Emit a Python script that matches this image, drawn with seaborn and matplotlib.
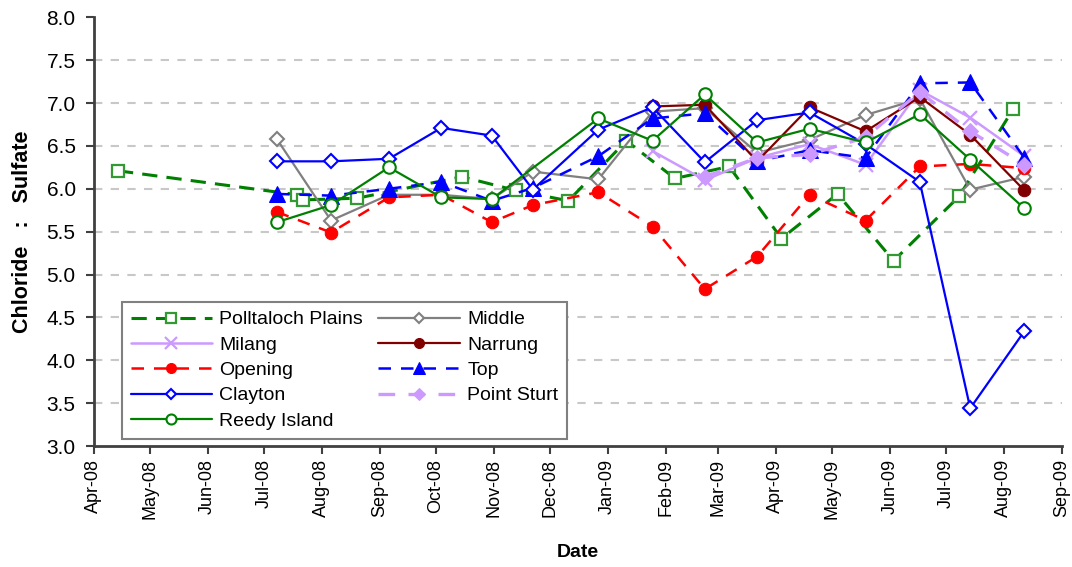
import numpy as np
import matplotlib
matplotlib.use("Agg")
import matplotlib.pyplot as plt
import matplotlib.dates as mdates
import pandas as pd
import seaborn as sns

sns.set_style("white", {"text.color": "black", "xtick.color": "black",
                        "ytick.color": "black", "axes.labelcolor": "black"})
plt.rcParams['font.family'] = ['Liberation Sans', 'DejaVu Sans']

# sampling dates and chloride : sulfate ratios
polltaloch_dates = ["2008-04-14", "2008-07-19", "2008-07-22", "2008-08-20", "2008-10-15",
                    "2008-11-13", "2008-12-11", "2009-01-11", "2009-02-06", "2009-03-07",
                    "2009-04-04", "2009-05-04", "2009-06-03", "2009-07-08", "2009-08-06"]
polltaloch_vals = [6.21, 5.93, 5.87, 5.89, 6.14, 5.98, 5.86, 6.56, 6.12, 6.26,
                   5.42, 5.94, 5.16, 5.91, 6.93]

site_dates = ["2008-07-08", "2008-08-06", "2008-09-06", "2008-10-04", "2008-10-31",
              "2008-11-22", "2008-12-27", "2009-01-25", "2009-02-22", "2009-03-22",
              "2009-04-19", "2009-05-19", "2009-06-17", "2009-07-14", "2009-08-12"]
middle_vals = [6.58, 5.63, 5.93, 5.93, 5.88, 6.20, 6.11, 6.90, 6.94, 6.42,
               6.57, 6.86, 7.05, 5.99, 6.14]
opening_vals = [5.73, 5.49, 5.90, 5.93, 5.61, 5.81, 5.96, 5.56, 4.83, 5.21,
                5.93, 5.63, 6.26, 6.29, 6.24]
top_vals = [5.94, 5.92, 6.00, 6.08, 5.86, 6.01, 6.38, 6.82, 6.88, 6.32,
            6.45, 6.36, 7.23, 7.24, 6.36]
clayton_vals = [6.32, 6.32, 6.35, 6.71, 6.62, 5.99, 6.69, 6.95, 6.31, 6.80,
                6.89, 6.52, 6.08, 3.44, 4.34]

reedy_dates = ["2008-07-08", "2008-08-06", "2008-09-06", "2008-10-04", "2008-10-31",
               "2008-12-27", "2009-01-25", "2009-02-22", "2009-03-22", "2009-04-19",
               "2009-05-19", "2009-06-17", "2009-07-14", "2009-08-12"]
reedy_vals = [5.61, 5.81, 6.25, 5.90, 5.88, 6.82, 6.56, 7.10, 6.54, 6.70,
              6.54, 6.87, 6.34, 5.77]

late_dates = ["2009-01-25", "2009-02-22", "2009-03-22", "2009-04-19", "2009-05-19",
              "2009-06-17", "2009-07-14", "2009-08-12"]
milang_vals = [6.44, 6.10, 6.36, 6.52, 6.28, 7.15, 6.83, 6.38]
narrung_vals = [6.96, 6.98, 6.32, 6.95, 6.67, 7.07, 6.63, 5.98]

sturt_dates = ["2009-02-22", "2009-03-22", "2009-04-19", "2009-05-19",
               "2009-06-17", "2009-07-14", "2009-08-12"]
sturt_vals = [6.14, 6.36, 6.40, 6.60, 7.13, 6.67, 6.28]

green = "#008000"
lav = "#CC99FF"

series = [
    ("Polltaloch Plains", polltaloch_dates, polltaloch_vals,
     dict(color=green, linestyle=(0, (5, 3)), lw=2.2, marker="s", ms=8.5,
          mfc="white", mec="#339933", mew=1.6)),
    ("Middle", site_dates, middle_vals,
     dict(color="#808080", linestyle="-", lw=1.6, marker="D", ms=7,
          mfc="white", mec="#808080", mew=1.5)),
    ("Milang", late_dates, milang_vals,
     dict(color=lav, linestyle="-", lw=1.8, marker="x", ms=10, mec=lav, mew=1.6)),
    ("Narrung", late_dates, narrung_vals,
     dict(color="#800000", linestyle="-", lw=1.6, marker="o", ms=9,
          mfc="#800000", mec="#800000")),
    ("Opening", site_dates, opening_vals,
     dict(color="#FF0000", linestyle=(0, (5, 4)), lw=1.8, marker="o", ms=9,
          mfc="#FF0000", mec="#FF0000")),
    ("Top", site_dates, top_vals,
     dict(color="#0000FF", linestyle=(0, (5, 4)), lw=1.8, marker="^", ms=11,
          mfc="#0000FF", mec="#0000FF")),
    ("Clayton", site_dates, clayton_vals,
     dict(color="#0000FF", linestyle="-", lw=1.6, marker="D", ms=7,
          mfc="white", mec="#0000FF", mew=1.5)),
    ("Point Sturt", sturt_dates, sturt_vals,
     dict(color=lav, linestyle=(0, (5, 4)), lw=2.4, marker="D", ms=8,
          mfc=lav, mec=lav)),
    ("Reedy Island", reedy_dates, reedy_vals,
     dict(color=green, linestyle="-", lw=1.6, marker="o", ms=9,
          mfc="white", mec=green, mew=1.5)),
]

fig = plt.figure(figsize=(10.72, 5.67), dpi=100)
ax = fig.add_axes([0.0874, 0.2134, 0.9031, 0.7561])

handles = {}
for name, dates, vals, style in series:
    df = pd.DataFrame({"Date": pd.to_datetime(dates), "ratio": vals})
    sns.lineplot(data=df, x="Date", y="ratio", ax=ax, label=name, sort=False,
                 estimator=None, **style)
    handles[name] = ax.get_lines()[-1]

ax.set_ylim(3.0, 8.0)
ax.set_yticks(np.arange(3.0, 8.01, 0.5))
ax.yaxis.set_major_formatter(matplotlib.ticker.FormatStrFormatter("%.1f"))
ax.set_xlim(pd.Timestamp("2008-04-01"), pd.Timestamp("2009-09-01"))
ax.xaxis.set_major_locator(mdates.MonthLocator())
ax.xaxis.set_major_formatter(mdates.DateFormatter("%b-%y"))
plt.setp(ax.get_xticklabels(), rotation=90)

for y in np.arange(3.5, 7.51, 0.5):
    ax.axhline(y, color="#C8C8C8", lw=1.5, ls=(0, (4, 4)), zorder=0)

for s in ["top", "right"]:
    ax.spines[s].set_visible(False)
for s in ["left", "bottom"]:
    ax.spines[s].set_color("#404040")
    ax.spines[s].set_linewidth(2)

ax.tick_params(axis="y", direction="out", length=6, width=1.5, color="#404040",
               labelcolor="black", labelsize=15, pad=7, left=True)
ax.tick_params(axis="x", direction="out", length=6, width=1.5, color="#404040",
               labelcolor="black", labelsize=13, pad=3, bottom=True)

ax.set_xlabel("Date", fontsize=14, fontweight="bold", labelpad=18, color="black")
ax.set_ylabel("Chloride   :   Sulfate", fontsize=15.5, fontweight="bold",
              labelpad=10, color="black")

order = ["Polltaloch Plains", "Milang", "Opening", "Clayton", "Reedy Island",
         "Middle", "Narrung", "Top", "Point Sturt"]
leg = ax.legend([handles[n] for n in order], order, ncol=2, loc="upper left",
                bbox_to_anchor=(0.029, 0.336), fontsize=14, frameon=True,
                fancybox=False, framealpha=1, edgecolor="#808080",
                handlelength=4.2, handletextpad=0.36, columnspacing=0.8,
                labelspacing=0.4, borderpad=0.45, markerscale=0.8,
                borderaxespad=0)
leg.get_frame().set_linewidth(1.5)
for t in leg.get_texts():
    t.set_color("black")

plt.savefig("out.png", dpi=100)
